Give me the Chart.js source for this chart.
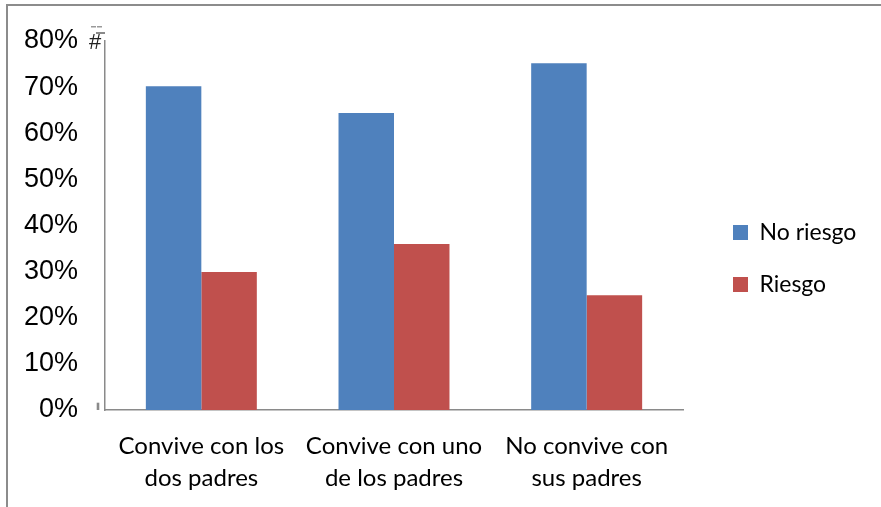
<!DOCTYPE html>
<html>
<head>
<meta charset="utf-8">
<script src="https://cdn.jsdelivr.net/npm/chart.js@4"></script>
<style>
  html, body { margin: 0; padding: 0; background: #fff; }
  #wrap { position: relative; width: 881px; height: 507px; overflow: hidden; }
  #frame { position: absolute; left: 6px; top: 4px; right: -10px; bottom: -10px;
           border-top: 2px solid #8c8c8c; border-left: 2px solid #8c8c8c; pointer-events: none; }
  canvas { position: absolute; left: 0; top: 0; }
</style>
</head>
<body>
<div id="wrap">
  <canvas id="c" width="881" height="507"></canvas>
  <div id="frame"></div>
</div>
<script>
const categories = [
  ['Convive con los', 'dos padres'],
  ['Convive con uno', 'de los padres'],
  ['No convive con', 'sus padres']
];
const seriesNames = ['No riesgo', 'Riesgo'];
const noRiesgo = [70.2, 64.4, 75.2];
const riesgo = [29.9, 36.0, 24.9];
const yTickLabels = ['0%', '10%', '20%', '30%', '40%', '50%', '60%', '70%', '80%'];

const legendShift = {
  id: 'legendShift',
  afterLayout(chart) {
    const l = chart.legend;
    if (l) { l.left += 21; l.right = chart.width; l.width = l.right - l.left; }
  }
};

// small artifacts seen next to the value axis in the original picture
const axisMarks = {
  id: 'axisMarks',
  afterDraw(chart) {
    const ctx = chart.ctx;
    const y = chart.scales.y;
    const left = chart.chartArea.left;
    const yTop = y.getPixelForValue(80);
    const yZero = y.getPixelForValue(0);
    ctx.save();
    ctx.fillStyle = '#222';
    ctx.font = '22px "Liberation Sans"';
    ctx.textAlign = 'center';
    ctx.textBaseline = 'middle';
    ctx.fillText('#', left - 10, yTop + 2);
    ctx.fillStyle = '#9a9a9a';
    ctx.fillRect(left - 14, yTop - 15, 5, 1.5);
    ctx.fillRect(left - 8, yTop - 15, 5, 1.5);
    ctx.fillStyle = '#8a8a8a';
    ctx.fillRect(left - 9, yTop - 9, 9, 2);
    ctx.fillRect(left - 8.3, yZero - 7.3, 2.6, 7.3);
    ctx.restore();
  }
};

new Chart(document.getElementById('c'), {
  type: 'bar',
  data: {
    labels: categories,
    datasets: [
      { label: seriesNames[0], data: noRiesgo, backgroundColor: '#4F81BD', borderWidth: 0 },
      { label: seriesNames[1], data: riesgo, backgroundColor: '#C0504D', borderWidth: 0 }
    ]
  },
  options: {
    responsive: false,
    animation: false,
    events: [],
    layout: { padding: { top: 10, bottom: 0, left: 0, right: 48 } },
    datasets: { bar: { categoryPercentage: 0.576, barPercentage: 1.0 } },
    scales: {
      x: {
        grid: { display: false, drawTicks: false },
        border: { display: true, color: '#8a8a8a', width: 1.5 },
        ticks: {
          color: '#000',
          font: { family: 'Lato', size: 24, lineHeight: 1.333 },
          padding: 20,
          maxRotation: 0,
          autoSkip: false
        },
        afterFit(scale) { scale.height = 97; scale.paddingLeft = 0; scale.paddingRight = 0; }
      },
      y: {
        min: 0, max: 80,
        grid: { display: false, drawTicks: false },
        border: { display: true, color: '#8a8a8a', width: 1.5 },
        ticks: {
          stepSize: 10,
          color: '#000',
          padding: 27,
          font: { family: 'Liberation Sans', size: 27 },
          callback: (v) => yTickLabels[Math.round(v / 10)]
        },
        afterFit(scale) { scale.width = 105; scale.paddingTop = 41; scale.paddingBottom = 0; }
      }
    },
    plugins: {
      tooltip: { enabled: false },
      legend: {
        position: 'right',
        align: 'center',
        maxWidth: 150,
        labels: {
          color: '#000',
          boxWidth: 15,
          boxHeight: 15,
          padding: 29,
          font: { family: 'Lato', size: 23 }
        }
      }
    }
  },
  plugins: [legendShift, axisMarks]
});
</script>
</body>
</html>
